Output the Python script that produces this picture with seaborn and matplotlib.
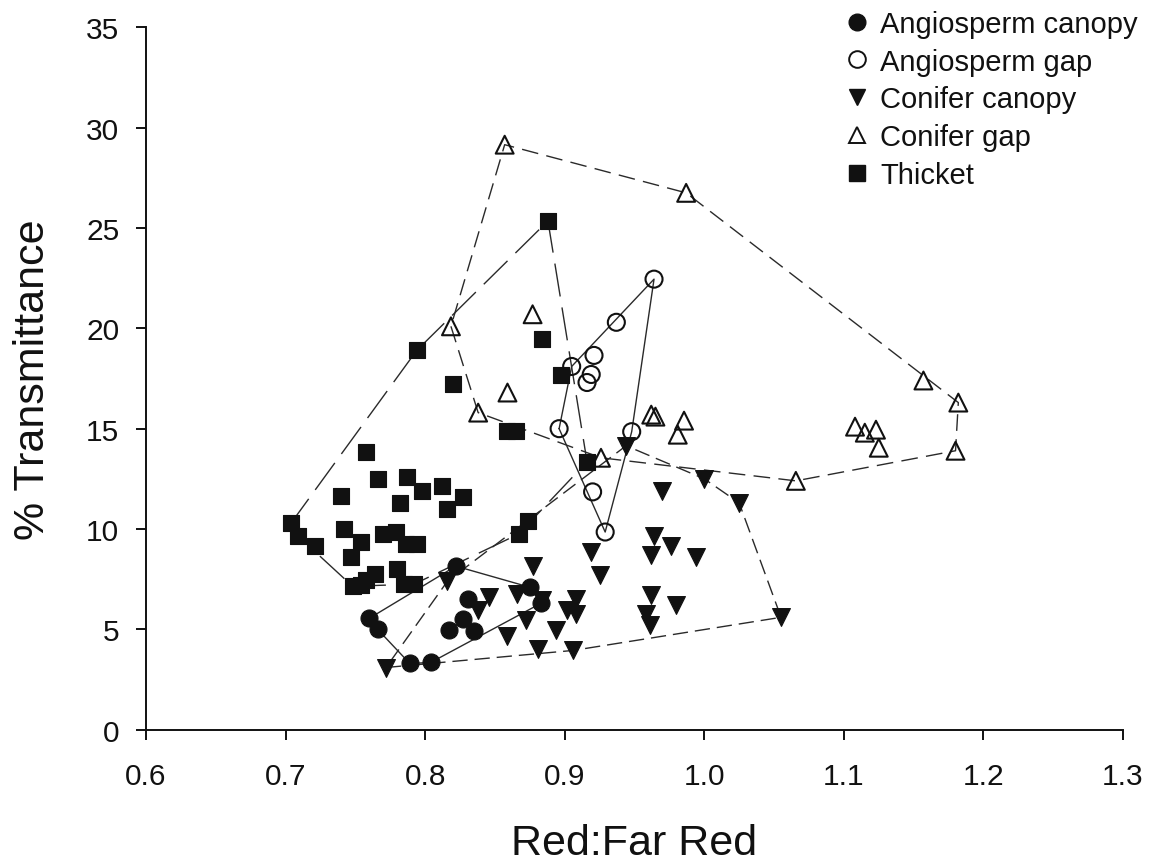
import numpy as np
import pandas as pd
import matplotlib
matplotlib.use("Agg")
import matplotlib.pyplot as plt
from matplotlib.lines import Line2D
import seaborn as sns

# ---------------- data ----------------
ang_canopy_x = [0.760, 0.766, 0.789, 0.804, 0.822, 0.831, 0.827, 0.817, 0.835, 0.875, 0.883]
ang_canopy_y = [5.55, 5.0, 3.3, 3.35, 8.15, 6.5, 5.5, 4.95, 4.9, 7.1, 6.3]

ang_gap_x = [0.964, 0.937, 0.905, 0.921, 0.919, 0.916, 0.896, 0.948, 0.920, 0.929]
ang_gap_y = [22.45, 20.3, 18.1, 18.65, 17.7, 17.3, 15.0, 14.85, 11.85, 9.85]

con_canopy_x = [0.944, 1.000, 1.025, 0.970, 0.964, 0.976, 0.962, 0.994, 0.919, 0.925,
                0.877, 0.866, 0.884, 0.908, 0.902, 0.908, 0.872, 0.894, 0.859, 0.881,
                0.906, 0.962, 0.980, 0.958, 0.961, 1.055, 0.816, 0.846, 0.838, 0.772]
con_canopy_y = [14.15, 12.5, 11.3, 11.9, 9.65, 9.15, 8.7, 8.6, 8.85, 7.7,
                8.15, 6.75, 6.45, 6.5, 5.95, 5.75, 5.45, 4.95, 4.65, 4.0,
                3.95, 6.7, 6.2, 5.75, 5.2, 5.6, 7.4, 6.6, 5.95, 3.1]

con_gap_x = [0.857, 0.987, 0.8185, 0.877, 0.838, 0.859, 0.962, 0.965, 0.9855, 0.981,
             0.926, 1.0656, 1.157, 1.182, 1.108, 1.115, 1.123, 1.125, 1.180]
con_gap_y = [29.15, 26.75, 20.1, 20.7, 15.8, 16.8, 15.7, 15.6, 15.4, 14.7,
             13.55, 12.4, 17.4, 16.3, 15.1, 14.8, 14.95, 14.05, 13.9]

thicket_x = [0.704, 0.709, 0.721, 0.758, 0.766, 0.740, 0.787, 0.798, 0.812, 0.827,
             0.816, 0.782, 0.742, 0.754, 0.747, 0.770, 0.779, 0.786, 0.794, 0.780,
             0.764, 0.758, 0.748, 0.754, 0.785, 0.792, 0.874, 0.867, 0.859, 0.865,
             0.820, 0.794, 0.888, 0.884, 0.897, 0.916]
thicket_y = [10.3, 9.65, 9.15, 13.85, 12.5, 11.65, 12.6, 11.9, 12.15, 11.6,
             11.0, 11.3, 10.0, 9.35, 8.6, 9.75, 9.85, 9.25, 9.25, 8.0,
             7.75, 7.45, 7.15, 7.2, 7.25, 7.25, 10.4, 9.75, 14.9, 14.9,
             17.25, 18.9, 25.35, 19.45, 17.65, 13.35]

labels = ["Angiosperm canopy", "Angiosperm gap", "Conifer canopy", "Conifer gap", "Thicket"]
x_ticks = [0.6, 0.7, 0.8, 0.9, 1.0, 1.1, 1.2, 1.3]
y_ticks = [0, 5, 10, 15, 20, 25, 30, 35]

# ---------------- style ----------------
sns.set_style("ticks")
plt.rcParams["font.family"] = ["Liberation Sans", "DejaVu Sans"]

groups = [
    dict(x=ang_canopy_x, y=ang_canopy_y, marker="o", filled=True, s=150, ls="-"),
    dict(x=ang_gap_x, y=ang_gap_y, marker="o", filled=False, s=150, ls="-"),
    dict(x=con_canopy_x, y=con_canopy_y, marker="v", filled=True, s=165, ls=(0, (11, 5))),
    dict(x=con_gap_x, y=con_gap_y, marker="^", filled=False, s=165, ls=(0, (12, 6))),
    dict(x=thicket_x, y=thicket_y, marker="s", filled=True, s=130, ls=(0, (24, 8))),
]


def convex_hull(xs, ys):
    pts = sorted(set(zip(xs, ys)))

    def cross(o, a, b):
        return (a[0] - o[0]) * (b[1] - o[1]) - (a[1] - o[1]) * (b[0] - o[0])

    lower, upper = [], []
    for p in pts:
        while len(lower) >= 2 and cross(lower[-2], lower[-1], p) <= 0:
            lower.pop()
        lower.append(p)
    for p in reversed(pts):
        while len(upper) >= 2 and cross(upper[-2], upper[-1], p) <= 0:
            upper.pop()
        upper.append(p)
    hull = lower[:-1] + upper[:-1]
    hull.append(hull[0])
    return [p[0] for p in hull], [p[1] for p in hull]


fig = plt.figure(figsize=(11.51, 8.62), dpi=100)
ax = fig.add_axes([0.1268, 0.1523, 0.9757 - 0.1268, 0.9672 - 0.1523])

INK = "#111111"
handles = []
for g, lab in zip(groups, labels):
    hx, hy = convex_hull(g["x"], g["y"])
    ax.plot(hx, hy, color="#2a2a2a", lw=1.0, ls=g["ls"], zorder=1)
    df = pd.DataFrame({"x": g["x"], "y": g["y"]})
    if g["filled"]:
        sns.scatterplot(data=df, x="x", y="y", marker=g["marker"], s=g["s"],
                        color=INK, edgecolor=INK, linewidth=0.8, ax=ax, zorder=3)
    else:
        sns.scatterplot(data=df, x="x", y="y", marker=g["marker"], s=g["s"],
                        facecolor="none", edgecolor=INK, linewidth=1.5, ax=ax, zorder=3)
    handles.append(Line2D([], [], ls="none", marker=g["marker"],
                          markersize=12 if g["marker"] != "s" else 11,
                          markerfacecolor=INK if g["filled"] else "none",
                          markeredgecolor=INK, markeredgewidth=1.0 if g["filled"] else 1.4))

ax.set_xlim(0.6, 1.3)
ax.set_ylim(0, 35)
ax.set_xticks(x_ticks)
ax.set_xticklabels([f"{v:.1f}" for v in x_ticks])
ax.set_yticks(y_ticks)
ax.set_yticklabels([str(v) for v in y_ticks])
ax.tick_params(axis="both", direction="out", length=7.2, width=1.4, color=INK,
               labelsize=21.5, labelcolor=INK)
ax.tick_params(axis="x", pad=16)
ax.tick_params(axis="y", pad=12)
for side in ["top", "right"]:
    ax.spines[side].set_visible(False)
for side in ["left", "bottom"]:
    ax.spines[side].set_linewidth(1.4)
    ax.spines[side].set_color(INK)

ax.set_xlabel("Red:Far Red", fontsize=31, labelpad=24, color=INK)
ax.set_ylabel("% Transmittance", fontsize=31, labelpad=24, color=INK)

leg = ax.legend(handles, labels, loc="upper left", bbox_to_anchor=(0.7319, 0.9875),
                bbox_transform=fig.transFigure, frameon=False, fontsize=21,
                handlelength=1.0, handletextpad=0.29, labelspacing=0.335,
                borderpad=0, borderaxespad=0)
for t in leg.get_texts():
    t.set_color(INK)

fig.savefig("out.png", dpi=100, facecolor="white")
